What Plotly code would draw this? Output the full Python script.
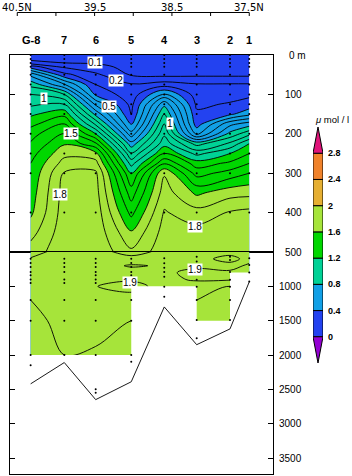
import plotly.graph_objects as go

# ---------------- data ----------------
STATIONS = ["G-8", "7", "6", "5", "4", "3", "2", "1"]
STATION_LAT = [40.327, 39.892, 39.486, 39.026, 38.599, 38.180, 37.749, 37.500]
DEPTHS = [0, 10, 20, 30, 50, 75, 100, 125, 150, 175, 200, 225, 250, 275, 300,
          350, 400, 450, 500, 600, 700, 800, 900, 1000, 1200, 1500, 2000]
N = None
P_G8 = [0.05, 0.07, 0.15, 0.35, 0.67, 0.87, 1.00, 1.08, 1.18, 1.27, 1.36, 1.41, 1.46, 1.50, 1.52,
        1.55, 1.58, 1.66, 1.75, 1.81, 1.83, 1.84, 1.85, 1.84, 1.80, 1.77, 1.75]
P_7 = [0.05, 0.07, 0.10, 0.18, 0.33, 0.61, 0.90, 1.10, 1.27, 1.40, 1.51, 1.59, 1.67, 1.74, 1.81,
       1.84, 1.85, 1.86, 1.86, 1.87, 1.88, 1.88, 1.88, 1.88, 1.86, 1.83, 1.80]
P_6 = [0.05, 0.06, 0.09, 0.13, 0.22, 0.30, 0.38, 0.58, 0.77, 0.98, 1.20, 1.42, 1.63, 1.74, 1.82,
       1.84, 1.86, 1.87, 1.88, 1.88, 1.88, 1.89, 1.89, 1.898, 1.87, 1.83, 1.79]
P_5 = [0.04, 0.05, 0.06, 0.07, 0.09, 0.21, 0.24, 0.27, 0.30, 0.38, 0.54, 0.74, 0.91, 1.06, 1.20,
       1.35, 1.47, 1.61, 1.72, 1.87, 1.905, 1.88, 1.89, 1.93, 1.86, 1.80, 1.75]
P_4 = [0.04, 0.04, 0.05, 0.05, 0.07, 0.25, 0.52, 0.77, 0.90, 1.00, 1.08, 1.16, 1.30, 1.49, 1.69,
       1.75, 1.81, 1.84, 1.86, 1.88, 1.895, 1.88, 1.88, 1.87, N, N, N]
P_3 = [0.04, 0.05, 0.05, 0.06, 0.08, 0.21, 0.25, 0.28, 0.32, 0.35, 0.48, 0.86, 1.07, 1.25, 1.36,
       1.58, 1.74, 1.84, 1.87, 1.88, 1.88, 1.93, 1.91, 1.86, 1.80, 1.77, N]
P_2 = [0.04, 0.05, 0.05, 0.06, 0.08, 0.21, 0.26, 0.31, 0.38, 0.67, 0.83, 1.02, 1.20, 1.32, 1.44,
       1.66, 1.81, 1.86, 1.88, 1.92, 1.88, 1.91, 1.91, 1.80, 1.78, 1.76, N]
P_1 = [0.04, 0.05, 0.05, 0.06, 0.08, 0.21, 0.28, 0.34, 0.47, 0.75, 0.97, 1.20, 1.30, 1.40, 1.50,
       1.67, 1.83, 1.87, 1.88, 1.88, 1.91, 1.91, N, N, N, N, N]
PROFILES = [P_G8, P_7, P_6, P_5, P_4, P_3, P_2, P_1]

STATION_BOTTOM = [2000, 2000, 2000, 2000, 1000, 1500, 1500, 800]   # deepest gridded depth
SEA_FLOOR = [2420, 2110, 2650, 2390, 1300, 1850, 1620, 935]

UPPER_SAMPLES = [0, 10, 20, 30, 50, 75, 100, 125, 150, 200, 250, 300, 400, 500]
LOWER_SAMPLES = [
    [600, 660, 720, 790, 840, 900, 950, 1200, 1500, 2000, 2150],
    [600, 660, 720, 790, 900, 950, 1200, 1500, 2000],
    [600, 660, 720, 790, 840, 900, 950, 1200, 1500, 2000, 2500, 2550],
    [600, 660, 720, 790, 840, 900, 950, 1200, 1500, 2000, 2100],
    [590, 665, 730, 790, 860, 1005, 1150],
    [570, 640, 715, 790, 905, 1005, 1200, 1490, 1755],
    [570, 615, 790, 905, 1005, 1200, 1490],
    [590, 690, 800, 930],
]

LEVELS = [0, 0.4, 0.8, 1.2, 1.6, 2.0, 2.4, 2.8]
LEVEL_LABELS = ["0", "0.4", "0.8", "1.2", "1.6", "2", "2.4", "2.8"]
BAND_COLORS = ["#9400D3", "#2342F0", "#12A0E6", "#00D296", "#00D700",
               "#A6E43A", "#E6AF32", "#F0822A", "#E0147A"]

LAT_TICKS = [40.5, 40.0, 39.5, 39.0, 38.5, 38.0, 37.5]
LAT_LABEL_VALS = [40.5, 39.5, 38.5, 37.5]
LAT_LABELS = ["40.5N", "39.5", "38.5", "37.5N"]

UPPER_TICKS = [0, 100, 200, 300, 400]
UPPER_TICK_TEXT = ["0 m", "100", "200", "300", "400"]
LOWER_TICKS = [500, 1000, 1500, 2000, 2500, 3000, 3500]
LOWER_TICK_TEXT = ["500", "1000", "1500", "2000", "2500", "3000", "3500"]

CONTOUR_LABELS = [  # (text, lat, depth, panel)
    ("0.1", 39.495, 20, "y"), ("0.2", 39.222, 65, "y"), ("0.5", 39.317, 131, "y"),
    ("1", 40.148, 110, "y"), ("1", 38.525, 175, "y"), ("1.5", 39.808, 199, "y"),
    ("1.8", 39.950, 353, "y"), ("1.8", 38.196, 434, "y"),
    ("1.9", 39.046, 937, "y2"), ("1.9", 38.196, 748, "y2"),
]

# ---------------- geometry ----------------
W, H = 352, 476
X_RANGE = [40.594, 37.193]
def px_x(p): return p / W
def px_y(p): return 1 - p / H

Z = [[PROFILES[s][d] for s in range(len(STATIONS))] for d in range(len(DEPTHS))]

nb = len(BAND_COLORS) - 1
CS = []
for k, c in enumerate(BAND_COLORS):
    CS.append([max(0.0, (k - 0.5) / nb), c])
    CS.append([min(1.0, (k + 0.5) / nb), c])

fig = go.Figure()

for xa, ya in (("x", "y"), ("x2", "y2")):
    fig.add_trace(go.Contour(
        x=STATION_LAT, y=DEPTHS, z=Z, xaxis=xa, yaxis=ya,
        autocontour=False, colorscale=CS, showscale=False,
        contours=dict(start=0, end=2.8, size=0.4, coloring="fill", showlines=False),
        line=dict(width=0), hoverinfo="skip"))
    fig.add_trace(go.Contour(
        x=STATION_LAT, y=DEPTHS, z=Z, xaxis=xa, yaxis=ya,
        autocontour=False, showscale=False,
        contours=dict(start=0.1, end=1.9, size=0.1, coloring="none"),
        line=dict(color="black", width=0.9), hoverinfo="skip"))

# white mask for the ungridded area below the deepest samples
mx, my = [], []
for i in range(len(STATIONS) - 1):
    b = min(STATION_BOTTOM[i], STATION_BOTTOM[i + 1])
    mx += [STATION_LAT[i], STATION_LAT[i + 1]]
    my += [b, b]
mx = mx[:-1] + [X_RANGE[1], X_RANGE[1], STATION_LAT[0]]
my = my[:-1] + [STATION_BOTTOM[-1], max(DEPTHS) + 5, max(DEPTHS) + 5]
fig.add_trace(go.Scatter(x=mx, y=my, xaxis="x2", yaxis="y2", fill="toself",
                         fillcolor="white", mode="lines", line=dict(width=0),
                         hoverinfo="skip", showlegend=False))

# sea floor
fig.add_trace(go.Scatter(x=STATION_LAT, y=SEA_FLOOR, xaxis="x2", yaxis="y2",
                         mode="lines", line=dict(color="black", width=0.9),
                         hoverinfo="skip", showlegend=False))

# sample dots
ux, uy, lx, ly = [], [], [], []
for i, lat in enumerate(STATION_LAT):
    for d in UPPER_SAMPLES:
        ux.append(lat); uy.append(d)
    for d in LOWER_SAMPLES[i]:
        lx.append(lat); ly.append(d)
fig.add_trace(go.Scatter(x=ux, y=uy, xaxis="x", yaxis="y", mode="markers",
                         marker=dict(size=2, color="black"), hoverinfo="skip", showlegend=False))
fig.add_trace(go.Scatter(x=lx, y=ly, xaxis="x2", yaxis="y2", mode="markers",
                         marker=dict(size=2, color="black"), hoverinfo="skip", showlegend=False))

# colour bar (bars + end triangles)
fig.add_trace(go.Bar(x=[0.5] * (len(LEVELS) - 1), y=[LEVELS[i + 1] - LEVELS[i] for i in range(len(LEVELS) - 1)],
                     base=LEVELS[:-1], width=1, xaxis="x3", yaxis="y3",
                     marker=dict(color=BAND_COLORS[1:-1], line=dict(color="black", width=1)),
                     hoverinfo="skip", showlegend=False))
step = LEVELS[1] - LEVELS[0]
fig.add_trace(go.Scatter(x=[0, 1, 0.5, 0], y=[LEVELS[-1], LEVELS[-1], LEVELS[-1] + step, LEVELS[-1]],
                         xaxis="x3", yaxis="y3", fill="toself", fillcolor=BAND_COLORS[-1],
                         mode="lines", line=dict(color="black", width=1), hoverinfo="skip", showlegend=False))
fig.add_trace(go.Scatter(x=[0, 1, 0.5, 0], y=[LEVELS[0], LEVELS[0], LEVELS[0] - step, LEVELS[0]],
                         xaxis="x3", yaxis="y3", fill="toself", fillcolor=BAND_COLORS[0],
                         mode="lines", line=dict(color="black", width=1), hoverinfo="skip", showlegend=False))

ann = []
FONT = "Liberation Sans"
for t, lat, d, ya in CONTOUR_LABELS:
    ann.append(dict(x=lat, y=d, xref="x", yref=ya, text=t, showarrow=False, yanchor="middle",
                    bgcolor="white", borderpad=0, font=dict(family=FONT, size=10, color="black")))
for s, lat in zip(STATIONS, STATION_LAT):
    ann.append(dict(x=lat, y=px_y(39.5), xref="x", yref="paper", text=s, showarrow=False,
                    yanchor="middle", font=dict(family=FONT, size=11, color="black", weight="bold")))
for v, t in zip(LAT_LABEL_VALS, LAT_LABELS):
    ann.append(dict(x=v, y=px_y(0), xref="x", yref="paper", text=t, showarrow=False,
                    yanchor="top", font=dict(family="DejaVu Sans", size=10, color="black")))
for v, t in zip(UPPER_TICKS, UPPER_TICK_TEXT):
    ann.append(dict(x=px_x(308 if t.endswith("m") else 303.5), y=v, xref="paper", yref="y", text=t,
                    xanchor="right", yanchor="middle", showarrow=False,
                    font=dict(family=FONT, size=10, color="black")))
for v, t in zip(LOWER_TICKS, LOWER_TICK_TEXT):
    ann.append(dict(x=px_x(303.5), y=v, xref="paper", yref="y2", text=t,
                    xanchor="right", yanchor="middle", showarrow=False,
                    font=dict(family=FONT, size=10, color="black")))
for v, t in zip(LEVELS, LEVEL_LABELS):
    ann.append(dict(x=px_x(325.5), y=v, xref="paper", yref="y3", text=t, xanchor="left",
                    yanchor="middle", showarrow=False,
                    font=dict(family=FONT, size=9, color="black", weight="bold")))
ann.append(dict(x=px_x(331.5), y=px_y(119), xref="paper", yref="paper", text="<i>μ</i> mol / l",
                xanchor="center", yanchor="middle", showarrow=False,
                font=dict(family=FONT, size=9.5, color="black")))

shapes = [dict(type="line", xref="x", yref="paper", x0=LAT_TICKS[0], x1=LAT_TICKS[-1],
               y0=px_y(12.5), y1=px_y(12.5), line=dict(color="black", width=1))]
for v in LAT_TICKS:
    shapes.append(dict(type="line", xref="x", yref="paper", x0=v, x1=v,
                       y0=px_y(12.5), y1=px_y(16), line=dict(color="black", width=1)))

ax_common = dict(showgrid=False, zeroline=False, showline=True, linecolor="black",
                 linewidth=1, mirror=True)
fig.update_layout(
    width=W, height=H, margin=dict(l=0, r=0, t=0, b=0), autosize=False,
    paper_bgcolor="white", plot_bgcolor="white", showlegend=False, barmode="overlay",
    xaxis=dict(domain=[px_x(10), px_x(273)], range=X_RANGE, anchor="y", ticks="",
               showticklabels=False, **ax_common),
    xaxis2=dict(domain=[px_x(10), px_x(273)], range=X_RANGE, anchor="y2", ticks="",
                showticklabels=False, matches="x", **ax_common),
    yaxis=dict(domain=[px_y(252), px_y(55)], range=[500, 0], anchor="x", ticks="inside",
               ticklen=5, tickcolor="black", tickvals=UPPER_TICKS[1:], showticklabels=False,
               showgrid=False, zeroline=False, showline=True, linecolor="black", linewidth=1,
               mirror="allticks"),
    yaxis2=dict(domain=[px_y(474), px_y(252)], range=[3733, 500], anchor="x2", ticks="inside",
                ticklen=5, tickcolor="black", tickvals=LOWER_TICKS[1:], showticklabels=False,
                showgrid=False, zeroline=False, showline=True, linecolor="black", linewidth=1,
                mirror="allticks"),
    xaxis3=dict(domain=[px_x(313), px_x(323)], range=[0, 1], anchor="y3", visible=False),
    yaxis3=dict(domain=[px_y(363), px_y(127)], range=[-0.4, 3.2], anchor="x3", visible=False),
    annotations=ann, shapes=shapes,
)

fig.write_html("out.html")
